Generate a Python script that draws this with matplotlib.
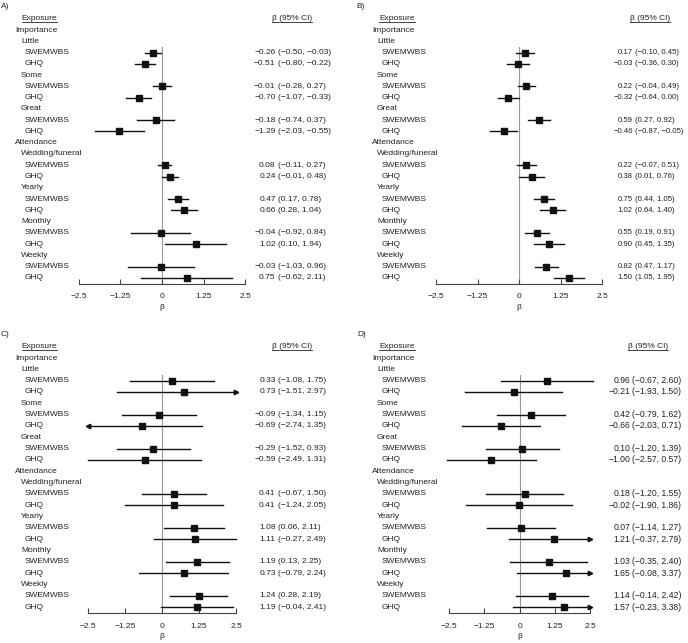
import matplotlib
matplotlib.use('Agg')
import matplotlib.pyplot as plt
from matplotlib.lines import Line2D
from matplotlib.transforms import blended_transform_factory

plt.rcParams['font.family'] = ['Liberation Sans', 'DejaVu Sans']

W, H = 688, 643

groups = ['Importance', 'Attendance']
levels = [['Little', 'Some', 'Great'], ['Wedding/funeral', 'Yearly', 'Monthly', 'Weekly']]
measures = ['SWEMWBS', 'GHQ']
ticks = [-2.5, -1.25, 0, 1.25, 2.5]
tick_labels = ['\u22122.5', '\u22121.25', '0', '1.25', '2.5']

# beta (95% CI), order: Little S/G, Some S/G, Great S/G, Wedding S/G, Yearly S/G, Monthly S/G, Weekly S/G
est_a = [-0.26, -0.51, -0.01, -0.70, -0.18, -1.29, 0.08, 0.24, 0.47, 0.66, -0.04, 1.02, -0.03, 0.75]
lo_a = [-0.50, -0.80, -0.28, -1.07, -0.74, -2.03, -0.11, -0.01, 0.17, 0.28, -0.92, 0.10, -1.03, -0.62]
hi_a = [-0.03, -0.22, 0.27, -0.33, 0.37, -0.55, 0.27, 0.48, 0.78, 1.04, 0.84, 1.94, 0.96, 2.11]

est_b = [0.17, -0.03, 0.22, -0.32, 0.59, -0.46, 0.22, 0.38, 0.75, 1.02, 0.55, 0.90, 0.82, 1.50]
lo_b = [-0.10, -0.36, -0.04, -0.64, 0.27, -0.87, -0.07, 0.01, 0.44, 0.64, 0.19, 0.45, 0.47, 1.05]
hi_b = [0.45, 0.30, 0.49, 0.00, 0.92, -0.05, 0.51, 0.76, 1.05, 1.40, 0.91, 1.35, 1.17, 1.95]

est_c = [0.33, 0.73, -0.09, -0.69, -0.29, -0.59, 0.41, 0.41, 1.08, 1.11, 1.19, 0.73, 1.24, 1.19]
lo_c = [-1.08, -1.51, -1.34, -2.74, -1.52, -2.49, -0.67, -1.24, 0.06, -0.27, 0.13, -0.79, 0.28, -0.04]
hi_c = [1.75, 2.97, 1.15, 1.35, 0.93, 1.31, 1.50, 2.05, 2.11, 2.49, 2.25, 2.24, 2.19, 2.41]

est_d = [0.96, -0.21, 0.42, -0.66, 0.10, -1.00, 0.18, -0.02, 0.07, 1.21, 1.03, 1.65, 1.14, 1.57]
lo_d = [-0.67, -1.93, -0.79, -2.03, -1.20, -2.57, -1.20, -1.90, -1.14, -0.37, -0.35, -0.08, -0.14, -0.23]
hi_d = [2.60, 1.50, 1.62, 0.71, 1.39, 0.57, 1.55, 1.86, 1.27, 2.79, 2.40, 3.37, 2.42, 3.38]

panels = [
    ('A)', est_a, lo_a, hi_a, dict(x0=79, x1=245, row0=30, rowh=11.27, axis=283.5, lab=(15, 21, 25),
                                   exp=39.5, ci=292, est_end=275.5, vfs=6.0, tag=(1, 6))),
    ('B)', est_b, lo_b, hi_b, dict(x0=436, x1=602, row0=30, rowh=11.27, axis=283.5, lab=(372, 377, 382),
                                   exp=397, ci=650, est_end=632.7, vfs=5.6, tag=(356, 6))),
    ('C)', est_c, lo_c, hi_c, dict(x0=88, x1=236, row0=358, rowh=11.32, axis=613.3, lab=(15, 21, 25),
                                   exp=39.5, ci=292, est_end=275.5, vfs=6.0, tag=(1, 335))),
    ('D)', est_d, lo_d, hi_d, dict(x0=449, x1=590, row0=358, rowh=11.32, axis=613.3, lab=(372, 377, 382),
                                   exp=397, ci=648, est_end=630.2, vfs=6.2, tag=(357, 334))),
]

TXT = '#222222'
FS = 6


def fmt(v):
    return f'{v:.2f}'.replace('-', '\u2212')


fig = plt.figure(figsize=(W / 100, H / 100), dpi=100)
underlined = []

for tag, est, lo, hi, g in panels:
    top_px = g['row0'] + 1.5 * g['rowh']
    ax = fig.add_axes([g['x0'] / W, 1 - g['axis'] / H, (g['x1'] - g['x0']) / W, (g['axis'] - top_px) / H])
    ax.set_xlim(-2.5, 2.5)
    ax.set_ylim((g['axis'] - g['row0']) / g['rowh'], 1.5)
    ax.patch.set_visible(False)
    for s in ['top', 'right', 'left']:
        ax.spines[s].set_visible(False)
    ax.spines['bottom'].set_color('#444444')
    ax.spines['bottom'].set_linewidth(0.8)
    ax.set_yticks([])
    ax.set_xticks(ticks)
    ax.set_xticklabels(tick_labels)
    ax.tick_params(axis='x', direction='in', length=3.5, width=0.8, color='#444444',
                   labelsize=FS, labelcolor=TXT, pad=7)
    ax.set_xlabel('\u03b2', fontsize=FS, color=TXT, labelpad=2.5)
    ax.axvline(0, color='#999999', lw=0.8, zorder=1)

    tr = blended_transform_factory(fig.transFigure, ax.transData)
    fx = lambda p: p / W

    # rows
    row = 0
    k = 0
    for gi, grp in enumerate(groups):
        ax.text(fx(g['lab'][0]), row, grp, transform=tr, fontsize=FS, color=TXT, va='center', ha='left', clip_on=False)
        row += 1
        for lev in levels[gi]:
            ax.text(fx(g['lab'][1]), row, lev, transform=tr, fontsize=FS, color=TXT, va='center', ha='left', clip_on=False)
            row += 1
            for m in measures:
                ax.text(fx(g['lab'][2]), row, m, transform=tr, fontsize=FS, color=TXT, va='center', ha='left', clip_on=False)
                l, h = lo[k], hi[k]
                left = max(l, -2.5) if l < -2.65 else l
                right = min(h, 2.5) if h > 2.65 else h
                ax.plot([left, right], [row, row], color='#111111', lw=1.0, zorder=2, clip_on=False)
                if h > 2.65:
                    ax.plot([2.5], [row], marker='>', ms=3.2, color='#111111', zorder=3, clip_on=False)
                if l < -2.65:
                    ax.plot([-2.5], [row], marker='<', ms=3.2, color='#111111', zorder=3, clip_on=False)
                ax.plot([est[k]], [row], marker='s', ms=3.8, color='#111111', zorder=4, clip_on=False)
                ax.text(fx(g['est_end']), row, fmt(est[k]), transform=tr, fontsize=g['vfs'], color=TXT,
                        va='center', ha='right', clip_on=False)
                ax.text(fx(g['est_end'] + 2.3), row, f'({fmt(l)}, {fmt(h)})', transform=tr, fontsize=g['vfs'],
                        color=TXT, va='center', ha='left', clip_on=False)
                row += 1
                k += 1

    t1 = ax.text(fx(g['exp']), -1, 'Exposure', transform=tr, fontsize=FS, color=TXT, va='center', ha='center', clip_on=False)
    t2 = ax.text(fx(g['ci']), -1, '\u03b2 (95% CI)', transform=tr, fontsize=FS, color=TXT, va='center', ha='center', clip_on=False)
    underlined += [t1, t2]
    fig.text(g['tag'][0] / W, 1 - g['tag'][1] / H, tag, fontsize=FS, color=TXT, va='center', ha='left')

# underline headers
fig.canvas.draw()
r = fig.canvas.get_renderer()
for t in underlined:
    bb = t.get_window_extent(r)
    y = (bb.y0 + 0.5) / H
    fig.add_artist(Line2D([bb.x0 / W, bb.x1 / W], [y, y], color=TXT, lw=0.6))

fig.savefig('out.png', dpi=100)
